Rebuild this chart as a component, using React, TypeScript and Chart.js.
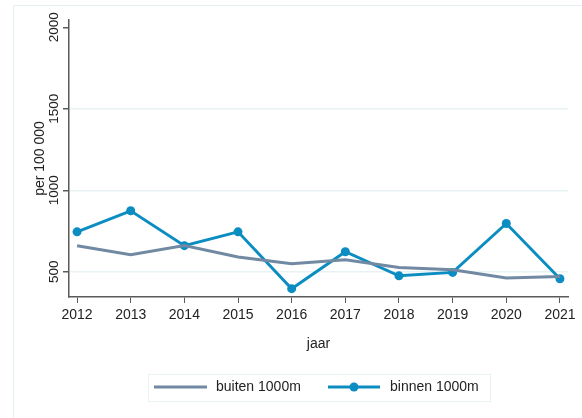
import React, { useEffect, useRef } from "react";
import { Chart, registerables } from "chart.js";

Chart.register(...registerables);

const years = [2012, 2013, 2014, 2015, 2016, 2017, 2018, 2019, 2020, 2021];
const buiten = [660, 604, 661, 590, 549, 574, 526, 512, 461, 471];
const binnen = [745, 874, 660, 745, 396, 623, 475, 496, 796, 457];
const yTicks = [500, 1000, 1500, 2000];
const seriesLabels = ["buiten 1000m", "binnen 1000m"];

const FONT = "'Liberation Sans', Arial, sans-serif";
const GREY = "#7189a2";
const BLUE = "#0c8dc2";

export default function App() {
  const ref = useRef<HTMLCanvasElement | null>(null);

  useEffect(() => {
    if (!ref.current) return;

    const customDraw = {
      id: "customDraw",
      afterDraw(chart: any) {
        const ctx = chart.ctx;
        const y = chart.scales.y;
        // rotated y tick labels
        ctx.save();
        ctx.fillStyle = "#222";
        ctx.font = `13.5px ${FONT}`;
        ctx.textAlign = "center";
        ctx.textBaseline = "middle";
        yTicks.forEach((v) => {
          const py = y.getPixelForValue(v);
          ctx.save();
          ctx.translate(54, py);
          ctx.rotate(-Math.PI / 2);
          ctx.fillText(String(v), 0, 0);
          ctx.restore();
        });
        ctx.restore();

        // legend
        ctx.save();
        const bx = 148.5, by = 374.5, bw = 342, bh = 27;
        ctx.strokeStyle = "#eaf1f3";
        ctx.lineWidth = 1;
        ctx.strokeRect(bx, by, bw, bh);
        const ly = 387;
        const ds = chart.data.datasets;
        // item 1
        ctx.strokeStyle = ds[0].borderColor;
        ctx.lineWidth = 3;
        ctx.beginPath();
        ctx.moveTo(154, ly);
        ctx.lineTo(207, ly);
        ctx.stroke();
        ctx.fillStyle = "#222";
        ctx.font = `14px ${FONT}`;
        ctx.textAlign = "left";
        ctx.textBaseline = "middle";
        ctx.fillText(ds[0].label, 216, ly);
        // item 2
        ctx.strokeStyle = ds[1].borderColor;
        ctx.beginPath();
        ctx.moveTo(328, ly);
        ctx.lineTo(380, ly);
        ctx.stroke();
        ctx.fillStyle = ds[1].borderColor;
        ctx.beginPath();
        ctx.arc(354, ly, 4.5, 0, Math.PI * 2);
        ctx.fill();
        ctx.fillStyle = "#222";
        ctx.fillText(ds[1].label, 390, ly);
        ctx.restore();
      },
    };

    const chart = new Chart(ref.current, {
      type: "line",
      data: {
        datasets: [
          {
            label: seriesLabels[0],
            data: years.map((x, i) => ({ x, y: buiten[i] })),
            borderColor: GREY,
            backgroundColor: GREY,
            borderWidth: 3,
            pointRadius: 0,
            tension: 0,
          },
          {
            label: seriesLabels[1],
            data: years.map((x, i) => ({ x, y: binnen[i] })),
            borderColor: BLUE,
            backgroundColor: BLUE,
            borderWidth: 3,
            pointRadius: 4.5,
            pointBorderWidth: 0,
            tension: 0,
          },
        ],
      },
      options: {
        animation: false,
        responsive: false,
        layout: { padding: { left: 0, top: 20, right: 14, bottom: 61 } },
        plugins: {
          legend: { display: false },
          tooltip: { enabled: false },
        },
        scales: {
          x: {
            type: "linear",
            min: 2011.85,
            max: 2021.15,
            afterBuildTicks: (s: any) => {
              s.ticks = years.map((v) => ({ value: v }));
            },
            afterFit: (s: any) => {
              s.height = 60;
            },
            border: { display: true, color: "#5a5a5a", width: 1.5 },
            grid: {
              display: true,
              drawOnChartArea: false,
              drawTicks: true,
              tickLength: 6,
              color: "#5a5a5a",
            },
            ticks: {
              color: "#222",
              font: { family: FONT, size: 14 },
              padding: 4,
              maxRotation: 0,
              callback: (v: any) => String(v),
            },
            title: {
              display: true,
              text: "jaar",
              color: "#222",
              font: { family: FONT, size: 14 },
              padding: { top: 0, bottom: 4 },
            },
          },
          y: {
            type: "linear",
            min: 345,
            max: 2045,
            afterBuildTicks: (s: any) => {
              s.ticks = yTicks.map((v) => ({ value: v }));
            },
            afterFit: (s: any) => {
              s.width = 69;
            },
            border: { display: true, color: "#5a5a5a", width: 1.5 },
            grid: {
              display: true,
              drawTicks: true,
              tickLength: 6,
              color: (c: any) =>
                c.tick && c.tick.value === 2000 ? "rgba(0,0,0,0)" : "#e8f2f4",
              tickColor: "#5a5a5a",
              lineWidth: 1.5,
            },
            ticks: {
              display: false,
            },
            title: {
              display: true,
              text: "per 100 000",
              color: "#222",
              font: { family: FONT, size: 14 },
              padding: { top: 32, bottom: 0 },
            },
          },
        },
      },
      plugins: [customDraw],
    });

    return () => chart.destroy();
  }, []);

  return (
    <div style={{ position: "fixed", left: 0, top: 0, width: 582, height: 418, background: "#fff" }}>
      <div
        style={{
          position: "absolute",
          left: 13,
          top: 5,
          width: 600,
          height: 500,
          border: "1px solid #e6f0f3",
          boxSizing: "border-box",
        }}
      />
      <canvas ref={ref} width={582} height={418} style={{ position: "absolute", left: 0, top: 0 }} />
    </div>
  );
}
